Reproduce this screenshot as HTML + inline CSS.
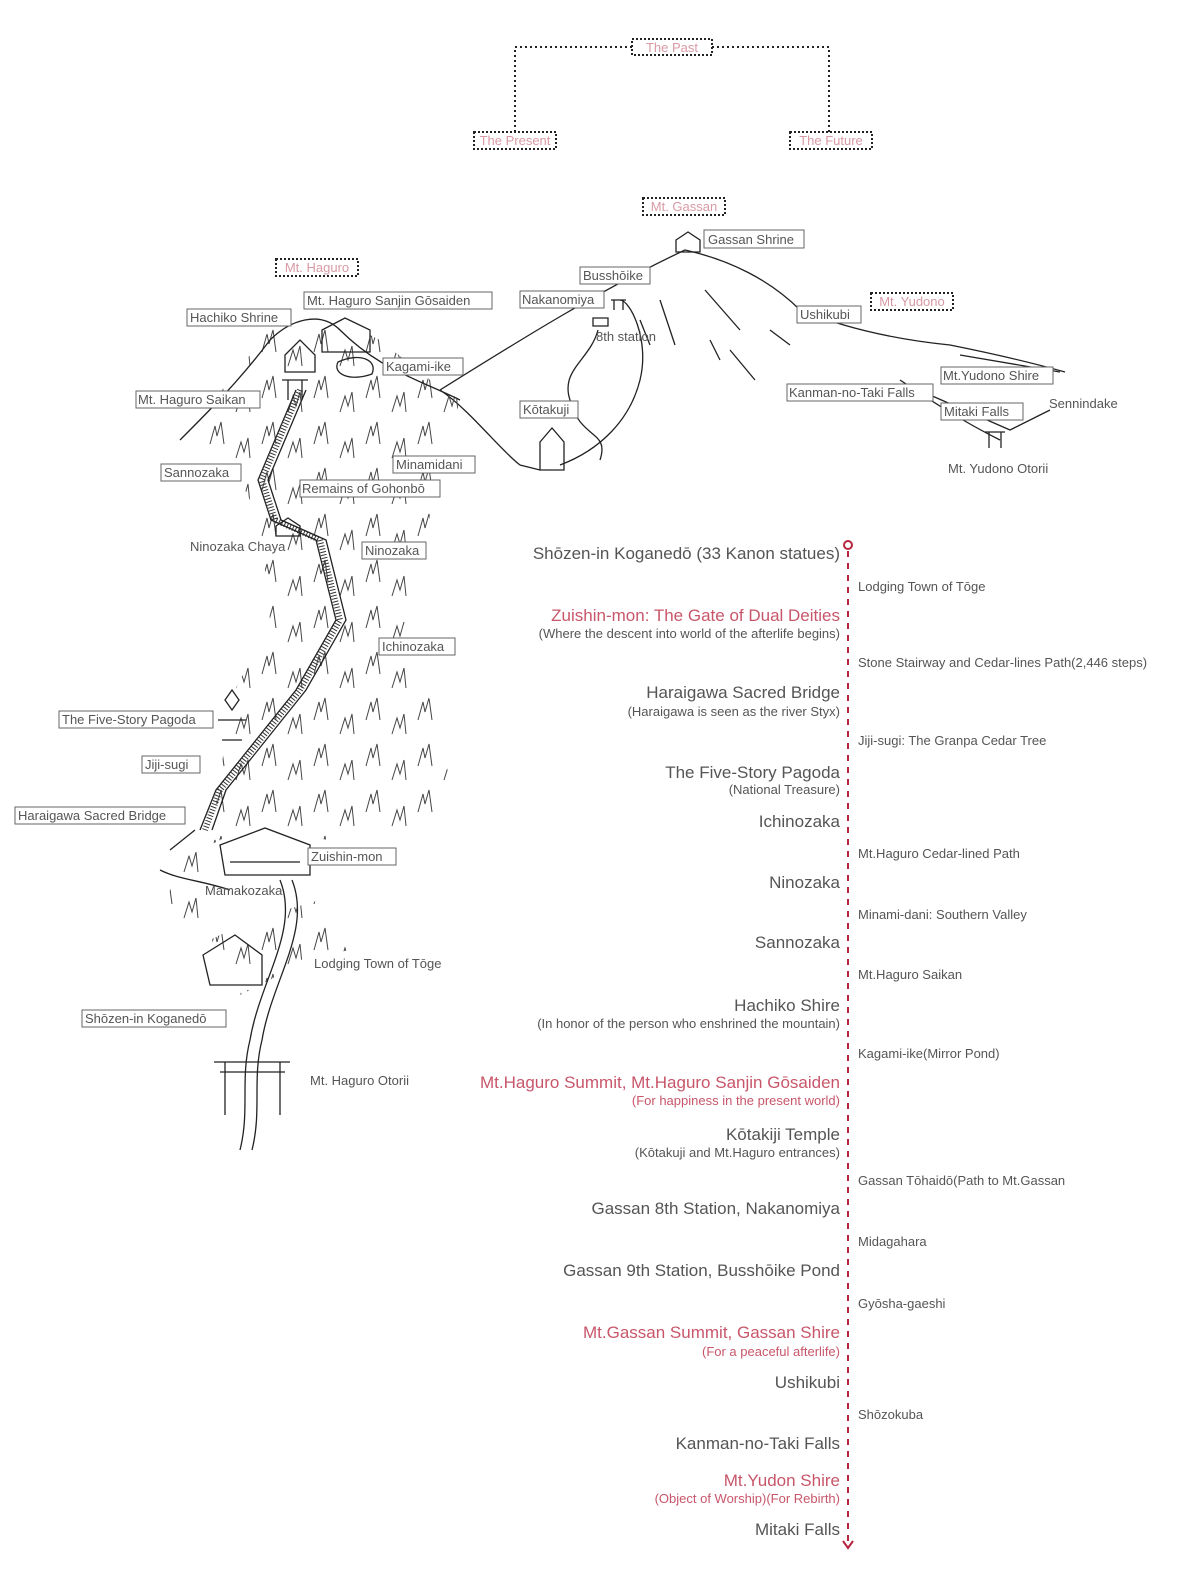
<!DOCTYPE html>
<html><head><meta charset="utf-8"><style>
html,body{margin:0;padding:0;background:#fff;}
svg{display:block;font-family:"Liberation Sans","DejaVu Sans",sans-serif;}
.m{font-size:17px;fill:#555;text-anchor:end}
.s{font-size:13px;fill:#555;text-anchor:end}
.mr{font-size:17px;fill:#c8566a;text-anchor:end}
.sr{font-size:13px;fill:#c8566a;text-anchor:end}
.r{font-size:13px;fill:#555}
.l{font-size:13px;fill:#555}
.bx{fill:#fff;stroke:#666;stroke-width:1}
.db{fill:#fff;stroke:#222;stroke-width:2;stroke-dasharray:2 2}
.dt{font-size:13px;fill:#d99aa5;text-anchor:middle}
.sk{fill:none;stroke:#222;stroke-width:1.3}
</style></head><body>
<svg width="1200" height="1584" viewBox="0 0 1200 1584" xmlns="http://www.w3.org/2000/svg">
<defs>
<pattern id="tr" width="52" height="46" patternUnits="userSpaceOnUse">
<path d="M2 30 L7 12 L9 22 L13 8 L16 30 M28 44 L33 28 L36 38 L40 24 L42 44" fill="none" stroke="#444" stroke-width="1"/>
</pattern>
</defs>
<path d="M632 47 H515 V132 M712 47 H829 V132" fill="none" stroke="#222" stroke-width="2" stroke-dasharray="2 3"/>
<rect class="db" x="632" y="39" width="80" height="16"/><text class="dt" x="672" y="52">The Past</text>
<rect class="db" x="474" y="132" width="82" height="17"/><text class="dt" x="515" y="145">The Present</text>
<rect class="db" x="790" y="132" width="82" height="17"/><text class="dt" x="831" y="145">The Future</text>
<rect class="db" x="643" y="198" width="82" height="17"/><text class="dt" x="684" y="211">Mt. Gassan</text>
<rect class="db" x="276" y="259" width="82" height="17"/><text class="dt" x="317" y="272">Mt. Haguro</text>
<rect class="db" x="871" y="293" width="82" height="17"/><text class="dt" x="912" y="306">Mt. Yudono</text>

<path class="sk" d="M440 390 C520 340 600 290 685 250 C730 260 770 280 800 310 C850 330 900 340 950 345 C1000 355 1040 365 1065 372"/>
<path class="sk" d="M960 355 L1060 372 M930 395 L1010 430 L1050 410 M900 380 C930 400 960 420 1000 440"/>
<path class="sk" d="M440 390 C470 410 500 450 520 465 L540 470 M560 465 C600 450 630 420 640 380 C650 340 630 300 620 300"/>
<path class="sk" d="M598 330 C590 360 560 370 570 400 C580 440 610 430 600 460"/>
<path class="sk" d="M660 300 L675 345 M705 290 L740 330 M730 350 L755 380 M640 320 L650 345 M770 330 L790 345 M710 340 L720 360"/>
<path class="sk" d="M676 240 L688 232 L700 240 V252 H676 Z M540 442 L552 428 L564 442 V470 H540 Z M593 318 H608 V326 H593 Z M611 300 H626 M614 300 V310 M623 300 V310 M985 432 H1005 M989 432 V448 M1001 432 V448"/>
<path d="M270 330 L330 315 L380 340 L430 380 L460 400 L440 470 L420 560 L400 640 L430 700 L455 800 L420 830 L330 840 L240 830 L180 860 L160 920 L210 940 L250 920 L320 900 L350 950 L300 960 L270 980 L230 1000 L200 900 L220 780 L230 700 L270 620 L260 520 L230 460 L190 430 L230 380 Z" fill="url(#tr)" stroke="none"/>
<path class="sk" d="M180 440 C210 410 240 380 270 340 C290 320 320 310 340 330 C380 370 420 380 460 400"/>
<path d="M300 390 L262 480 L275 520 L320 540 L340 620 L300 690 L260 740 L220 790 L205 830" fill="none" stroke="#333" stroke-width="6" stroke-dasharray="1 2"/>
<path class="sk" d="M296 390 L258 480 L271 520 L316 540 L336 620 L296 690 L256 740 L216 790 L200 830 M306 390 L268 480 L281 520 L326 540 L346 620 L306 690 L266 740 L226 790 L212 830"/>
<path class="sk" d="M280 880 C300 930 260 980 250 1040 C240 1080 250 1110 240 1150 M292 880 C312 930 272 980 262 1040 C252 1080 262 1110 252 1150"/>
<path class="sk" d="M220 845 L265 828 L310 845 V875 H225 Z M230 862 H300 M203 955 L235 935 L262 955 V985 H210 Z M214 1062 H290 M225 1062 V1115 M280 1062 V1115 M220 1072 H285 M285 355 L300 340 L315 355 V372 H285 Z M322 330 L345 318 L370 330 V352 H322 Z M338 362 C360 352 378 360 372 374 C350 382 332 374 338 362 Z M282 380 H308 M288 380 V400 M302 380 V400 M225 700 L232 690 L239 700 L232 710 Z M218 720 H246 M222 740 H242 M276 526 L288 518 L300 526 V536 H276 Z"/>
<path class="sk" d="M170 850 L195 830 M160 870 C180 880 200 880 230 890"/>

<g>
<rect class="bx" x="704" y="230" width="100" height="18"/><text class="l" x="708" y="244">Gassan Shrine</text>
<rect class="bx" x="580" y="267" width="70" height="17"/><text class="l" x="583" y="280">Busshōike</text>
<rect class="bx" x="520" y="291" width="84" height="17"/><text class="l" x="522" y="304">Nakanomiya</text>
<rect class="bx" x="797" y="306" width="64" height="17"/><text class="l" x="800" y="319">Ushikubi</text>
<rect class="bx" x="304" y="292" width="188" height="17"/><text class="l" x="307" y="305">Mt. Haguro Sanjin Gōsaiden</text>
<rect class="bx" x="187" y="309" width="104" height="17"/><text class="l" x="190" y="322">Hachiko Shrine</text>
<rect class="bx" x="383" y="358" width="80" height="17"/><text class="l" x="386" y="371">Kagami-ike</text>
<rect class="bx" x="136" y="391" width="124" height="17"/><text class="l" x="138" y="404">Mt. Haguro Saikan</text>
<rect class="bx" x="520" y="401" width="58" height="17"/><text class="l" x="523" y="414">Kōtakuji</text>
<rect class="bx" x="787" y="384" width="146" height="17"/><text class="l" x="789" y="397">Kanman-no-Taki Falls</text>
<rect class="bx" x="941" y="367" width="112" height="17"/><text class="l" x="943" y="380">Mt.Yudono Shire</text>
<rect class="bx" x="941" y="403" width="82" height="17"/><text class="l" x="944" y="416">Mitaki Falls</text>
<rect class="bx" x="161" y="464" width="80" height="17"/><text class="l" x="164" y="477">Sannozaka</text>
<rect class="bx" x="393" y="456" width="82" height="17"/><text class="l" x="396" y="469">Minamidani</text>
<rect class="bx" x="300" y="480" width="140" height="17"/><text class="l" x="302" y="493">Remains of Gohonbō</text>
<rect class="bx" x="362" y="542" width="64" height="17"/><text class="l" x="365" y="555">Ninozaka</text>
<rect class="bx" x="379" y="638" width="76" height="17"/><text class="l" x="382" y="651">Ichinozaka</text>
<rect class="bx" x="59" y="711" width="154" height="17"/><text class="l" x="62" y="724">The Five-Story Pagoda</text>
<rect class="bx" x="142" y="756" width="58" height="17"/><text class="l" x="145" y="769">Jiji-sugi</text>
<rect class="bx" x="15" y="807" width="170" height="17"/><text class="l" x="18" y="820">Haraigawa Sacred Bridge</text>
<rect class="bx" x="308" y="848" width="88" height="17"/><text class="l" x="311" y="861">Zuishin-mon</text>
<rect class="bx" x="82" y="1010" width="144" height="17"/><text class="l" x="85" y="1023">Shōzen-in Koganedō</text>
<text class="l" x="596" y="341">8th station</text>
<text class="l" x="1049" y="408">Sennindake</text>
<text class="l" x="948" y="473">Mt. Yudono Otorii</text>
<text class="l" x="190" y="551">Ninozaka Chaya</text>
<text class="l" x="205" y="895">Mamakozaka</text>
<text class="l" x="314" y="968">Lodging Town of Tōge</text>
<text class="l" x="310" y="1085">Mt. Haguro Otorii</text>
</g>

<line x1="848" y1="551" x2="848" y2="1543" stroke="#b5253f" stroke-width="2" stroke-dasharray="6 6"/>
<circle cx="848" cy="545" r="4" fill="#fff" stroke="#b5253f" stroke-width="2"/>
<path d="M843 1541 L848 1548 L853 1541" fill="none" stroke="#b5253f" stroke-width="2"/>
<text class="m" x="840" y="559">Shōzen-in Koganedō (33 Kanon statues)</text>
<text class="r" x="858" y="591">Lodging Town of Tōge</text>
<text class="mr" x="840" y="621">Zuishin-mon: The Gate of Dual Deities</text>
<text class="s" x="840" y="638">(Where the descent into world of the afterlife begins)</text>
<text class="r" x="858" y="667">Stone Stairway and Cedar-lines Path(2,446 steps)</text>
<text class="m" x="840" y="698">Haraigawa Sacred Bridge</text>
<text class="s" x="840" y="716">(Haraigawa is seen as the river Styx)</text>
<text class="r" x="858" y="745">Jiji-sugi: The Granpa Cedar Tree</text>
<text class="m" x="840" y="778">The Five-Story Pagoda</text>
<text class="s" x="840" y="794">(National Treasure)</text>
<text class="m" x="840" y="827">Ichinozaka</text>
<text class="r" x="858" y="858">Mt.Haguro Cedar-lined Path</text>
<text class="m" x="840" y="888">Ninozaka</text>
<text class="r" x="858" y="919">Minami-dani: Southern Valley</text>
<text class="m" x="840" y="948">Sannozaka</text>
<text class="r" x="858" y="979">Mt.Haguro Saikan</text>
<text class="m" x="840" y="1011">Hachiko Shire</text>
<text class="s" x="840" y="1028">(In honor of the person who enshrined the mountain)</text>
<text class="r" x="858" y="1058">Kagami-ike(Mirror Pond)</text>
<text class="mr" x="840" y="1088">Mt.Haguro Summit, Mt.Haguro Sanjin Gōsaiden</text>
<text class="sr" x="840" y="1105">(For happiness in the present world)</text>
<text class="m" x="840" y="1140">Kōtakiji Temple</text>
<text class="s" x="840" y="1157">(Kōtakuji and Mt.Haguro entrances)</text>
<text class="r" x="858" y="1185">Gassan Tōhaidō(Path to Mt.Gassan</text>
<text class="m" x="840" y="1214">Gassan 8th Station, Nakanomiya</text>
<text class="r" x="858" y="1246">Midagahara</text>
<text class="m" x="840" y="1276">Gassan 9th Station, Busshōike Pond</text>
<text class="r" x="858" y="1308">Gyōsha-gaeshi</text>
<text class="mr" x="840" y="1338">Mt.Gassan Summit, Gassan Shire</text>
<text class="sr" x="840" y="1356">(For a peaceful afterlife)</text>
<text class="m" x="840" y="1388">Ushikubi</text>
<text class="r" x="858" y="1419">Shōzokuba</text>
<text class="m" x="840" y="1449">Kanman-no-Taki Falls</text>
<text class="mr" x="840" y="1486">Mt.Yudon Shire</text>
<text class="sr" x="840" y="1503">(Object of Worship)(For Rebirth)</text>
<text class="m" x="840" y="1535">Mitaki Falls</text>
</svg>
</body></html>
